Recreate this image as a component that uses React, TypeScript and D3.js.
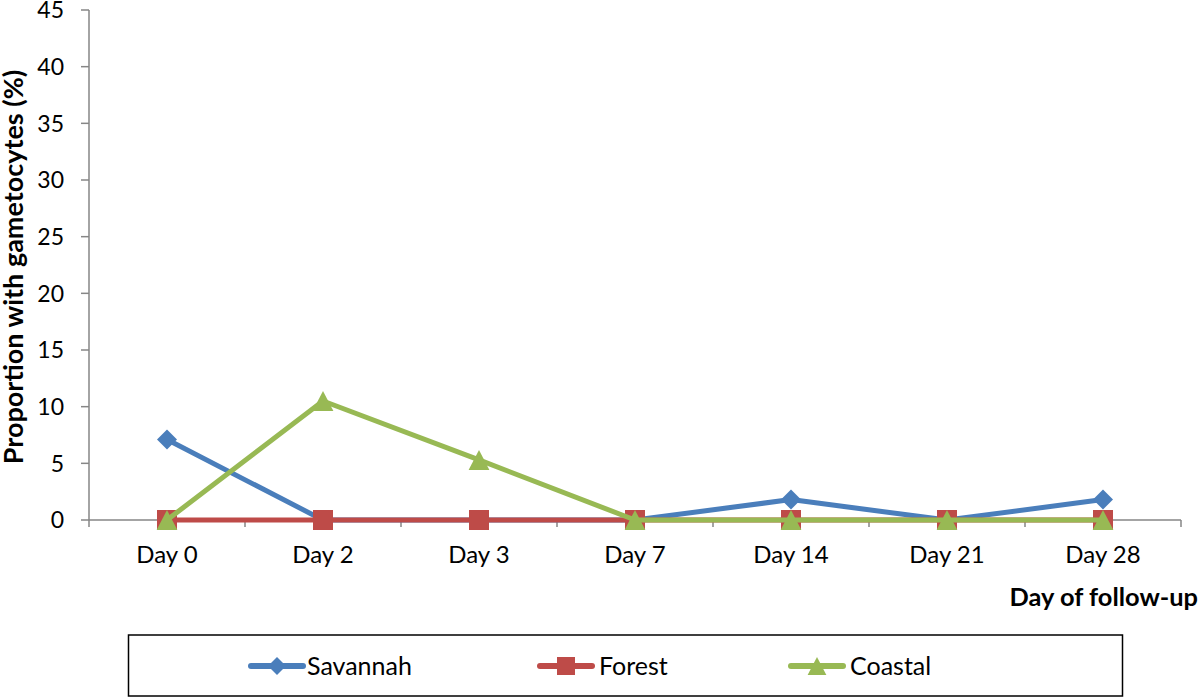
import React from "react";
import * as d3 from "d3";

const categories = ["Day 0", "Day 2", "Day 3", "Day 7", "Day 14", "Day 21", "Day 28"];
const savannah = [7.1, 0, 0, 0, 1.8, 0, 1.8];
const forest = [0, 0, 0, 0, 0, 0, 0];
const coastal = [0, 10.5, 5.3, 0, 0, 0, 0];
const yTicks = [0, 5, 10, 15, 20, 25, 30, 35, 40, 45];
const seriesNames = ["Savannah", "Forest", "Coastal"];
const seriesColors = ["#4a7ebb", "#be4b48", "#98b954"];
const seriesShapes = ["diamond", "square", "triangle"];

const FONT = "Lato, 'Open Sans', sans-serif";

function Marker({ shape, x, y, color, size }: { shape: string; x: number; y: number; color: string; size: number }) {
  const s = size / 2;
  if (shape === "diamond") {
    return <path d={`M${x},${y - s}L${x + s},${y}L${x},${y + s}L${x - s},${y}Z`} fill={color} />;
  }
  if (shape === "square") {
    return <rect x={x - s} y={y - s} width={size} height={size} fill={color} />;
  }
  return <path d={`M${x},${y - s}L${x + s * 1.04},${y + s}L${x - s * 1.04},${y + s}Z`} fill={color} />;
}

export default function App() {
  const W = 1200, H = 698;
  const x0 = 89, x1 = 1181, yTop = 10, yBot = 520;
  const xBand = d3.scaleBand<string>().domain(categories).range([x0, x1]);
  const y = d3.scaleLinear().domain([0, 45]).range([yBot, yTop]);
  const xc = (c: string) => (xBand(c) as number) + xBand.bandwidth() / 2;
  const data = [savannah, forest, coastal];
  const line = d3.line<number>().x((_, i) => xc(categories[i])).y((v) => y(v));
  const axisColor = "#868686";
  const boundaries = d3.range(categories.length + 1).map((i) => x0 + i * xBand.bandwidth());

  const legendItems = [
    { lx: 248, tx: 307 },
    { lx: 537, tx: 599 },
    { lx: 788, tx: 850 },
  ];
  const legendLineLen = 58;

  return (
    <svg width={W} height={H} style={{ position: "absolute", left: 0, top: 0, background: "#fff" }} fontFamily={FONT}>
      {/* y axis */}
      <line x1={x0} x2={x0} y1={yTop} y2={yBot} stroke={axisColor} strokeWidth={1.5} />
      {yTicks.map((t) => (
        <g key={t}>
          <line x1={x0 - 8} x2={x0} y1={y(t)} y2={y(t)} stroke={axisColor} strokeWidth={1.5} />
          <text x={64} y={y(t)} dy="0.36em" textAnchor="end" fontSize={23} fill="#000">
            {t}
          </text>
        </g>
      ))}
      {/* x axis */}
      <line x1={x0} x2={x1} y1={yBot} y2={yBot} stroke={axisColor} strokeWidth={1.5} />
      {boundaries.map((bx, i) => (
        <line key={i} x1={bx} x2={bx} y1={yBot} y2={yBot + 7} stroke={axisColor} strokeWidth={1.5} />
      ))}
      {categories.map((c) => (
        <text key={c} x={xc(c)} y={563} textAnchor="middle" fontSize={24} fill="#000">
          {c}
        </text>
      ))}
      {/* titles */}
      <text
        transform={`translate(23,${267}) rotate(-90)`}
        textAnchor="middle"
        fontSize={27}
        fontWeight="bold"
        fill="#000"
      >
        Proportion with gametocytes (%)
      </text>
      <text x={1198} y={606} textAnchor="end" fontSize={25.4} fontWeight="bold" fill="#000">
        Day of follow-up
      </text>
      {/* series */}
      {data.map((vals, si) => (
        <g key={si}>
          <path d={line(vals) as string} fill="none" stroke={seriesColors[si]} strokeWidth={5} strokeLinejoin="round" />
          {vals.map((v, i) => (
            <Marker key={i} shape={seriesShapes[si]} x={xc(categories[i])} y={y(v)} color={seriesColors[si]} size={20} />
          ))}
        </g>
      ))}
      {/* legend */}
      <rect x={128.5} y={635} width={994} height={61} fill="none" stroke="#000" strokeWidth={1.5} />
      {seriesNames.map((n, i) => (
        <g key={n}>
          <line
            x1={legendItems[i].lx + 3}
            x2={legendItems[i].lx + legendLineLen - 3}
            y1={666}
            y2={666}
            stroke={seriesColors[i]}
            strokeWidth={6}
            strokeLinecap="round"
          />
          <Marker shape={seriesShapes[i]} x={legendItems[i].lx + legendLineLen / 2} y={666} color={seriesColors[i]} size={18} />
          <text x={legendItems[i].tx} y={666} dy="0.36em" fontSize={25} fill="#000">
            {n}
          </text>
        </g>
      ))}
    </svg>
  );
}
